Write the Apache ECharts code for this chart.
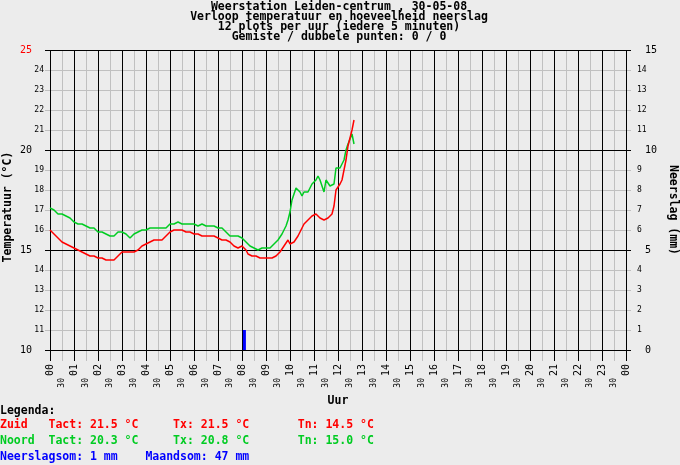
<!DOCTYPE html>
<html><head><meta charset="utf-8">
<script src="https://cdn.jsdelivr.net/npm/echarts@6/dist/echarts.min.js"></script>
<style>html,body{margin:0;padding:0;background:#ececec}#c{width:680px;height:465px}</style>
</head><body><div id="c"></div><script>
const titleLines = [
  'Weerstation Leiden-centrum , 30-05-08',
  'Verloop temperatuur en hoeveelheid neerslag',
  '12 plots per uur (iedere 5 minuten)',
  'Gemiste / dubbele punten: 0 / 0'
];
// 5-minute samples from 00:00 (°C)
const zuid = [
  16.0,15.9,15.8,15.8,15.6,15.5,15.4,15.4,15.3,15.3,15.2,15.1,
  15.1,15.1,15.0,15.0,14.9,14.9,14.8,14.8,14.7,14.7,14.7,14.6,
  14.6,14.6,14.6,14.6,14.5,14.5,14.5,14.5,14.5,14.5,14.7,14.8,
  14.9,14.9,14.9,14.9,14.9,14.9,14.9,15.0,15.0,15.1,15.2,15.2,
  15.3,15.3,15.4,15.5,15.5,15.5,15.5,15.5,15.5,15.6,15.7,15.7,
  15.9,16.0,16.0,16.0,16.0,16.0,16.0,15.9,15.9,15.9,15.9,15.9,
  15.8,15.8,15.8,15.7,15.7,15.7,15.7,15.7,15.7,15.7,15.7,15.6,
  15.6,15.6,15.5,15.5,15.5,15.4,15.4,15.3,15.2,15.1,15.1,15.1,
  15.2,15.1,15.0,14.8,14.7,14.7,14.7,14.7,14.7,14.6,14.7,14.6,
  14.6,14.6,14.6,14.6,14.7,14.7,14.8,14.9,15.0,15.2,15.3,15.5,
  15.3,15.2,15.4,15.5,15.7,15.9,16.1,16.3,16.4,16.5,16.6,16.7,
  16.8,16.8,16.7,16.6,16.6,16.5,16.5,16.6,16.7,16.8,17.2,18.0,
  18.1,18.3,18.5,19.0,19.5,20.2,20.6,21.0,21.5
];
const noord = [
  17.1,17.1,17.0,17.0,16.8,16.8,16.8,16.8,16.7,16.6,16.6,16.5,
  16.4,16.4,16.3,16.3,16.3,16.2,16.2,16.2,16.1,16.1,16.1,16.0,
  15.9,15.9,15.9,15.9,15.8,15.7,15.7,15.8,15.7,15.8,15.9,15.9,
  15.9,15.8,15.8,15.7,15.6,15.7,15.8,15.8,15.9,15.9,16.0,16.0,
  16.0,16.1,16.1,16.1,16.1,16.1,16.1,16.1,16.1,16.1,16.1,16.2,
  16.3,16.3,16.3,16.4,16.4,16.3,16.3,16.3,16.3,16.3,16.3,16.3,
  16.3,16.3,16.2,16.2,16.3,16.3,16.2,16.2,16.2,16.2,16.2,16.2,
  16.1,16.1,16.1,16.0,15.9,15.8,15.7,15.7,15.7,15.7,15.7,15.7,
  15.6,15.5,15.4,15.3,15.2,15.1,15.1,15.0,15.0,15.1,15.1,15.1,
  15.1,15.1,15.1,15.2,15.3,15.4,15.5,15.6,15.8,16.0,16.2,16.5,
  16.9,17.5,17.8,18.1,18.0,17.9,17.7,17.9,17.9,17.9,17.8,18.3,
  18.3,18.5,18.7,18.5,18.2,17.9,18.5,18.6,18.2,18.3,18.3,19.1,
  19.1,19.1,19.3,19.5,20.0,20.3,20.3,20.8,20.3
];
const rainTimes = [8.1];
const rainMm = [1];
const hourLabels = ['00','01','02','03','04','05','06','07','08','09','10','11',
  '12','13','14','15','16','17','18','19','20','21','22','23','00'];
const legendLines = [
  {text:'Legenda:', color:'#000000'},
  {text:'Zuid   Tact: 21.5 °C     Tx: 21.5 °C       Tn: 14.5 °C', color:'#ff0000'},
  {text:'Noord  Tact: 20.3 °C     Tx: 20.8 °C       Tn: 15.0 °C', color:'#00cc22'},
  {text:'Neerslagsom: 1 mm    Maandsom: 47 mm', color:'#0000ff'}
];

const STEP = 5 / 60;
const MONO = '"DejaVu Sans Mono", "Liberation Mono", monospace';
const GRAY = '#c0c0c0';
const toPts = arr => arr.map((v, i) => [i * STEP, v]);

const chart = echarts.init(document.getElementById('c'));
const graphics = [];
titleLines.forEach((t, i) => graphics.push({
  type: 'text', x: 339, y: 7 + i * 10,
  style: {text: t, font: 'bold 11.5px ' + MONO, fill: '#000', textAlign: 'center', textVerticalAlign: 'middle', align: 'center', verticalAlign: 'middle'}
}));
graphics.push({type: 'text', x: 8, y: 207, rotation: Math.PI / 2,
  style: {text: 'Temperatuur (°C)', font: 'bold 11.5px ' + MONO, fill: '#000', textAlign: 'center', textVerticalAlign: 'middle', align: 'center', verticalAlign: 'middle'}});
graphics.push({type: 'text', x: 673, y: 210, rotation: -Math.PI / 2,
  style: {text: 'Neerslag (mm)', font: 'bold 11.5px ' + MONO, fill: '#000', textAlign: 'center', textVerticalAlign: 'middle', align: 'center', verticalAlign: 'middle'}});
graphics.push({type: 'text', x: 338, y: 401,
  style: {text: 'Uur', font: 'bold 11.5px ' + MONO, fill: '#000', textAlign: 'center', textVerticalAlign: 'middle', align: 'center', verticalAlign: 'middle'}});
legendLines.forEach((l, i) => graphics.push({
  type: 'text', x: 0, y: [411, 425, 441, 457][i],
  style: {text: l.text, font: 'bold 11.5px ' + MONO, fill: l.color, textAlign: 'left', textVerticalAlign: 'middle', align: 'left', verticalAlign: 'middle'}
}));

const isMajor = v => Math.abs(v % 5) < 1e-6;
chart.setOption({
  animation: false,
  backgroundColor: '#ececec',
  grid: {left: 50, top: 50, width: 576, height: 300, containLabel: false},
  graphic: graphics,
  xAxis: [
    {type: 'value', min: 0, max: 24, interval: 0.5, position: 'bottom', z: 0,
      axisLine: {show: false},
      axisTick: {show: true, length: 11, lineStyle: {color: GRAY}},
      splitLine: {show: true, lineStyle: {color: GRAY, width: 1}},
      axisLabel: {rotate: 90, margin: 28, fontSize: 8, fontFamily: MONO, color: '#000',
        showMinLabel: true, showMaxLabel: true,
        formatter: v => (Math.abs(v - Math.round(v)) > 0.1 ? '30' : '')}},
    {type: 'value', min: 0, max: 24, interval: 1, position: 'bottom', offset: 0, z: 1,
      axisLine: {show: false},
      axisTick: {show: true, length: 11, lineStyle: {color: '#000'}},
      splitLine: {show: true, lineStyle: {color: '#000', width: 1}},
      axisLabel: {rotate: 90, margin: 14, fontSize: 10, fontFamily: MONO, color: '#000',
        showMinLabel: true, showMaxLabel: true,
        formatter: v => hourLabels[Math.round(v)]}}
  ],
  yAxis: [
    {type: 'value', min: 10, max: 25, interval: 1, position: 'left', z: 0,
      axisLine: {show: false},
      axisTick: {show: true, length: 5, lineStyle: {color: GRAY}},
      splitLine: {show: true, lineStyle: {color: GRAY, width: 1}},
      axisLabel: {margin: 6, fontSize: 8, fontFamily: MONO, color: '#000',
        formatter: v => (isMajor(v) ? '' : String(v))}},
    {type: 'value', min: 10, max: 25, interval: 5, position: 'left', offset: 0, z: 1,
      axisLine: {show: false},
      axisTick: {show: true, length: 5, lineStyle: {color: '#000'}},
      splitLine: {show: true, lineStyle: {color: '#000', width: 1}},
      axisLabel: {margin: 18, fontSize: 10, fontFamily: MONO,
        color: v => (Number(v) === 25 ? '#ff0000' : '#000000')}},
    {type: 'value', min: 0, max: 15, interval: 1, position: 'right', z: 0,
      axisLine: {show: false},
      axisTick: {show: true, length: 5, lineStyle: {color: GRAY}},
      splitLine: {show: false},
      axisLabel: {margin: 11, fontSize: 8, fontFamily: MONO, color: '#000',
        formatter: v => (isMajor(v) ? '' : String(v))}},
    {type: 'value', min: 0, max: 15, interval: 5, position: 'right', offset: 0, z: 1,
      axisLine: {show: false},
      axisTick: {show: true, length: 5, lineStyle: {color: '#000'}},
      splitLine: {show: false},
      axisLabel: {margin: 19, fontSize: 10, fontFamily: MONO, color: '#000'}}
  ],
  series: [
    {name: 'Noord', type: 'line', xAxisIndex: 1, yAxisIndex: 1, z: 5,
      data: toPts(noord), showSymbol: false, symbol: 'none',
      lineStyle: {color: '#00cc22', width: 1.5}},
    {name: 'Zuid', type: 'line', xAxisIndex: 1, yAxisIndex: 1, z: 6,
      data: toPts(zuid), showSymbol: false, symbol: 'none',
      lineStyle: {color: '#ff0000', width: 1.5}},
    {name: 'Neerslag', type: 'bar', xAxisIndex: 1, yAxisIndex: 3, z: 7,
      barWidth: 3, data: rainTimes.map((t, i) => [t, rainMm[i]]),
      itemStyle: {color: '#0000ff'}}
  ]
});
</script></body></html>
